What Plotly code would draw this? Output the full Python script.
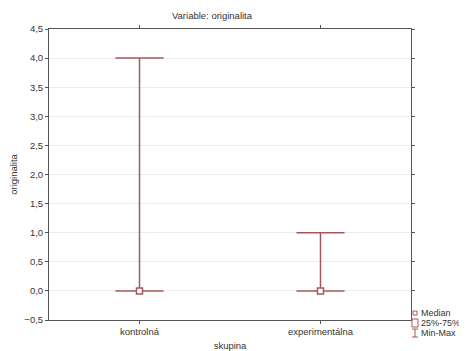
import plotly.graph_objects as go

# Data
categories = ["kontrolná", "experimentálna"]
medians = [0.0, 0.0]
q1 = [0.0, 0.0]
q3 = [0.0, 0.0]
mins = [0.0, 0.0]
maxs = [4.0, 1.0]
y_ticks = [-0.5, 0.0, 0.5, 1.0, 1.5, 2.0, 2.5, 3.0, 3.5, 4.0, 4.5]

RED = "#a5585c"
TXT = "#333333"
FONT = "Liberation Sans, Arial"
OFF = 8  # default body margin of the html page
W, H = 467 - OFF, 351 - OFF
# plot area in window pixels: x 49..411, y 29..320
L, T = 49 - OFF, 29 - OFF
R, B = W - (411 - OFF), H - (320 - OFF)
PW, PH = W - L - R, H - T - B


def px(x):
    """window pixel x -> paper"""
    return (x - OFF - L) / PW


def py(y):
    """window pixel y -> paper"""
    return (H - B - (y - OFF)) / PH


fig = go.Figure()
fig.add_trace(go.Box(
    x=categories, q1=q1, median=medians, q3=q3,
    lowerfence=mins, upperfence=maxs,
    whiskerwidth=1, boxpoints=False,
    line=dict(color=RED, width=1.5),
    fillcolor="rgba(0,0,0,0)", showlegend=False, hoverinfo="skip",
))
fig.add_trace(go.Scatter(
    x=categories, y=medians, mode="markers",
    marker=dict(symbol="square", size=6, color="white",
                line=dict(color=RED, width=1.5)),
    showlegend=False, hoverinfo="skip", cliponaxis=False,
))

axis_common = dict(
    showline=True, linecolor="#555555", linewidth=1, mirror="ticks",
    ticks="outside", ticklen=3, tickcolor="#555555",
    tickfont=dict(family=FONT, size=9.5, color=TXT),
    zeroline=False, automargin=False,
)

fig.update_layout(
    width=W, height=H,
    margin=dict(l=L, r=R, t=T, b=B, pad=0, autoexpand=False),
    paper_bgcolor="white", plot_bgcolor="white",
    separators=", ",
    boxgap=0.62,
    title=dict(text="Variable: originalita", x=px(212), xref="paper",
               xanchor="center", y=1 - (16 - OFF) / H, yanchor="middle",
               font=dict(family=FONT, size=9.5, color=TXT)),
    xaxis=dict(**axis_common, range=[-0.5, 1.5], showgrid=False,
               title=dict(text="skupina", standoff=5,
                          font=dict(family=FONT, size=9.5, color=TXT))),
    yaxis=dict(**axis_common, range=[-0.5, 4.5], tickvals=y_ticks,
               tickformat=".1f", showgrid=True, gridcolor="#ececec", gridwidth=1,
               title=dict(text="originalita", standoff=12,
                          font=dict(family=FONT, size=9.5, color=TXT))),
    showlegend=False,
)

# Custom legend (bottom right)
shapes = []
annotations = []
# Median: small square
shapes.append(dict(type="rect", xref="paper", yref="paper",
                   x0=px(413), x1=px(417), y0=py(315), y1=py(311),
                   line=dict(color=RED, width=1), fillcolor="white"))
# 25%-75%: larger square
shapes.append(dict(type="rect", xref="paper", yref="paper",
                   x0=px(412), x1=px(418), y0=py(327), y1=py(319),
                   line=dict(color=RED, width=1), fillcolor="white"))
# Min-Max: whisker symbol
shapes.append(dict(type="line", xref="paper", yref="paper",
                   x0=px(415), x1=px(415), y0=py(337), y1=py(329),
                   line=dict(color=RED, width=1)))
shapes.append(dict(type="line", xref="paper", yref="paper",
                   x0=px(412), x1=px(418), y0=py(329), y1=py(329),
                   line=dict(color=RED, width=1)))
shapes.append(dict(type="line", xref="paper", yref="paper",
                   x0=px(412), x1=px(418), y0=py(337), y1=py(337),
                   line=dict(color=RED, width=1)))
for label, yy in [("Median", 313), ("25%-75%", 323), ("Min-Max", 333)]:
    annotations.append(dict(text=label, xref="paper", yref="paper",
                            x=px(419.5), y=py(yy), xanchor="left", yanchor="middle",
                            showarrow=False, borderpad=0,
                            font=dict(family=FONT, size=9, color=TXT)))
fig.update_layout(shapes=shapes, annotations=annotations)

fig.write_html("out.html")
